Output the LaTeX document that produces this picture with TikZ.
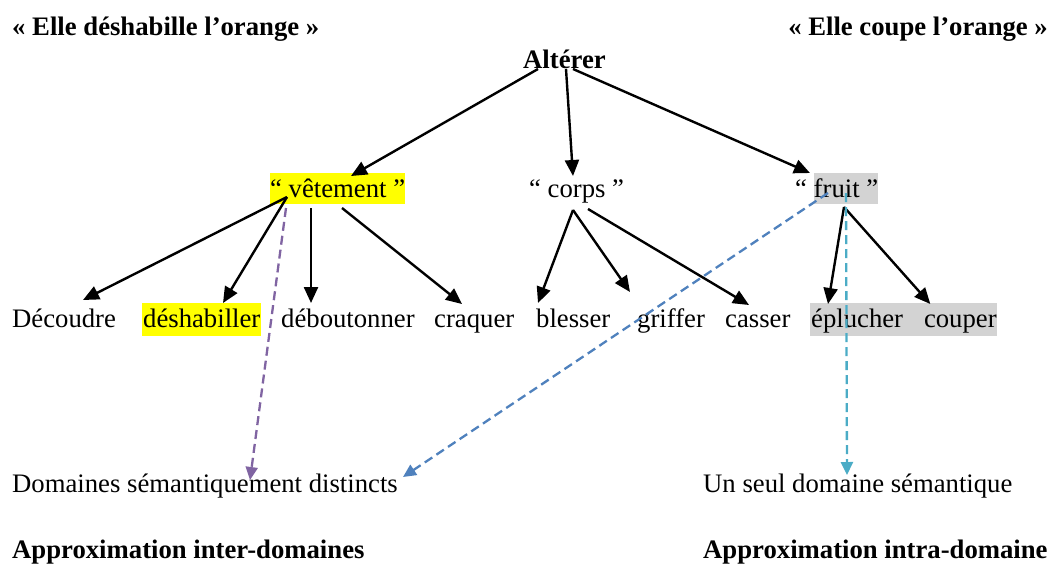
\documentclass[tikz,border=0pt]{standalone}
\usepackage{fontspec}
\setmainfont{Liberation Serif}
\usetikzlibrary{arrows.meta}
\definecolor{hlyellow}{HTML}{FFFF00}
\definecolor{hlgray}{HTML}{D3D3D3}
\definecolor{dpurple}{HTML}{8064A2}
\definecolor{dblue}{HTML}{4F81BD}
\definecolor{dcyan}{HTML}{4BACC6}
\newcommand\hlstrut{\rule[-7pt]{0pt}{31pt}}
\newcommand\hlbox[2]{{\setlength\fboxsep{0pt}\colorbox{#1}{\hlstrut#2}}}
\tikzset{
  txt/.style={inner sep=0pt, anchor=base west, font=\fontsize{26.7}{32}\selectfont},
  btxt/.style={txt, font=\fontsize{26.7}{32}\selectfont\bfseries},
  hlg/.style={fill=hlgray, text height=24pt, text depth=9pt},
  hly/.style={fill=hlyellow, text height=24pt, text depth=9pt},
  solidarrow/.style={line width=2.4pt, -{Triangle[length=16pt,width=14pt]}},
  dasharrow/.style={line width=2.3pt, dash pattern=on 9pt off 5pt, -{Triangle[length=13pt,width=12pt]}}
}
\begin{document}
\begin{tikzpicture}[x=1pt, y=-1pt]
\useasboundingbox (0,0) rectangle (1052,563);
% titles
\node[btxt] (t1) at (12,35) {« Elle déshabille l’orange »};
\node[btxt, anchor=base east] (t2) at (1048,35) {« Elle coupe l’orange »};
\node[btxt] (alt) at (523,68) {Altérer};
% middle row
\node[txt] (vet) at (270,197) {\hlbox{hlyellow}{“ vêtement ”}};
\node[txt] (corps) at (529,197) {“ corps ”};
\node[txt] (fruit) at (795,197) {“ \hlbox{hlgray}{fruit ”}};
% bottom row
\node[txt] (dec) at (12,327) {Découdre};
\node[txt, hly, inner xsep=1pt] (desh) at (142,327) {déshabiller};
\node[txt] (debout) at (281,327) {déboutonner};
\node[txt] (craq) at (434,327) {craquer};
\node[txt] (bles) at (536,327) {blesser};
\node[txt] (grif) at (637,327) {griffer};
\node[txt] (cass) at (725,327) {casser};
\node[txt, hlg, inner xsep=1pt] (epl) at (810,327) {éplucher\kern20pt};
\node[txt, hlg, inner xsep=0.5pt, xshift=-1pt] (coup) at (epl.base east) {couper};
% lower texts
\node[txt] (dom) at (12,492) {Domaines sémantiquement distincts};
\node[txt] (un) at (703,492) {Un seul domaine sémantique};
\node[btxt] (ainter) at (12,558) {Approximation inter-domaines};
\node[btxt] (aintra) at (703,558) {Approximation intra-domaine};
% arrows from Altérer
\draw[solidarrow] ([shift={(15,1)}]alt.base west) -- ([shift={(81,-21)}]vet.base west);
\draw[solidarrow] ([shift={(43,1)}]alt.base west) -- ([shift={(44,-21)}]corps.base west);
\draw[solidarrow] ([shift={(50,1)}]alt.base west) -- ([shift={(15,-24)}]fruit.base west);
% from vêtement
\draw[solidarrow] ([shift={(17,0)}]vet.base west) -- ([shift={(71,-27)}]dec.base west);
\draw[solidarrow] ([shift={(17,0)}]vet.base west) -- ([shift={(81,-24)}]desh.base west);
\draw[solidarrow] ([shift={(41,11)}]vet.base west) -- ([shift={(30,-24)}]debout.base west);
\draw[solidarrow] ([shift={(72,11)}]vet.base west) -- ([shift={(28,-23)}]craq.base west);
% from corps
\draw[solidarrow] ([shift={(44,13)}]corps.base west) -- ([shift={(2,-24)}]bles.base west);
\draw[solidarrow] ([shift={(44,13)}]corps.base west) -- ([shift={(-7,-35)}]grif.base west);
\draw[solidarrow] ([shift={(59,12)}]corps.base west) -- ([shift={(24,-22)}]cass.base west);
% from fruit
\draw[solidarrow] ([shift={(49,10)}]fruit.base west) -- ([shift={(18,-23)}]epl.base west);
\draw[solidarrow] ([shift={(49,10)}]fruit.base west) -- ([shift={(7,-23)}]coup.base west);
% dashed
\draw[dasharrow, dpurple] ([shift={(16,11)}]vet.base west) -- ([shift={(238,-12)}]dom.base west);
\draw[dasharrow, dblue] ([shift={(33,-4)}]fruit.base west) -- ([shift={(391,-15)}]dom.base west);
\draw[dasharrow, dcyan] ([shift={(51,-4)}]fruit.base west) -- ([shift={(144,-17)}]un.base west);
\end{tikzpicture}
\end{document}
